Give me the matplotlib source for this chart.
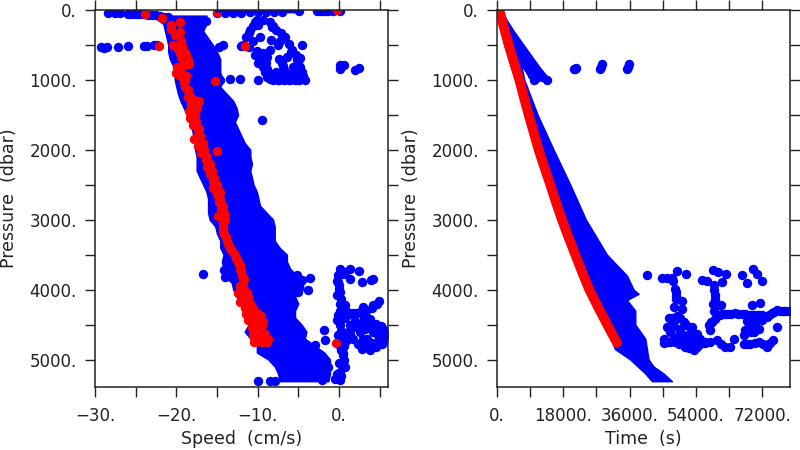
import matplotlib
matplotlib.use('Agg')
import matplotlib.pyplot as plt

# ==================== left panel: speed ====================
band_p = [80, 200, 300, 400, 500, 600, 700, 800, 900, 1000, 1100, 1200, 1300, 1400, 1500, 1600, 1700, 1800,
          1900, 2000, 2100, 2200, 2300, 2400, 2500, 2600, 2700, 2800, 2900, 3000, 3100, 3200, 3300, 3400,
          3500, 3600, 3700, 3800, 3900, 4000, 4100, 4200, 4300, 4400, 4500, 4600, 4700, 4800, 4900, 5000,
          5100, 5200, 5310]
band_lo = [-23, -21.6, -21.4, -21.2, -21, -21, -20.8, -20.4, -20.2, -20.2, -20, -19.8, -19.5, -19.1, -18.7,
           -18.3, -18.1, -17.9, -17.7, -17.7, -17.5, -17.5, -17.5, -17.1, -16.7, -16.3, -16.1, -16.1, -16.1,
           -15.9, -15.2, -15, -14.6, -14.6, -14.2, -14.4, -14.2, -14.2, -13.2, -13, -12.6, -12, -11.8, -11.4,
           -11.1, -11.6, -10.9, -10.1, -10.1, -8.7, -7.9, -7.5, -7.3]
band_hi = [-16.3, -16.3, -16.7, -16.1, -15.5, -15, -14.6, -14.6, -14.6, -14.2, -14.6, -13.8, -13, -12.6, -12.4,
           -12.8, -12.4, -12, -11.6, -10.9, -10.9, -10.7, -10.9, -10.7, -10.5, -10.1, -9.9, -9.7, -8.9, -8.1,
           -7.9, -7.9, -7.9, -7.3, -6.4, -6.4, -6, -5.2, -4.4, -4.4, -5.4, -5, -5.4, -5.4, -4.6, -4, -4.2, -3,
           -1.8, -1.1, -1.1, -1.1, -1.3]

# surface row, 500 dbar row, upper loop, deep cluster
blue_v = [-28.4, -27.5, -26.9, -26, -25.5, -25, -24.5, -24, -23.5, -23, -22.5, -22, -21.5, -21, -15, -14, -13, -12, -11, -10, -9,
          -8, -7, -4.9, -2.7, -2.3, -2, -1.6, -1.3, -0.7, 0.1,
          -29.3, -28.9, -28.5, -27.2, -26, -24, -23.6, -22.8, -22.4, -14.2, -14.8, -12, -16.4,
          -10.3, -10.9, -11.4, -11.8, -11.1, -10.3, -9.9, -9.3, -8.9, -8.1, -6.8, -5.4, -4.2, -4.6, -5, -4.8, -5.8,
          -6.6, -7.7, -8.5, -9.3, -10.1, -7, -7.7, -8.9, -9.9, -9.7, -8.3, -7.5, -6.4, -8.5, -6.8, -5.6, -4.6,
          -10.6, -11.1, -10.6, -10.1, -9.6, -9.1, -8.5, -7.5, -6.2, -4.9, -4.4, -4.8, -5.3, -6.2, -7.1, -8.1, -7.4, -6, -5.6,
          -9.4, -9, -8.8, -8.4, -7.9, -7.1, -6.9, -5.4, -5.2, -5.9, -7.2, -8.2,
          -9.5, 0.1, 0.65, 0.1, 2, 2.5, -14.6, -13.4, -12.2, -9.9, -7.4, -6, -5, -4.6,
          -16.7, -14.1, -14, -3.6, -4.6, -5.2, -3.8, -5, -1.9, -10, -8.5, -7.9,
          0.1, 1.35, 2.5, -0.1, 1.35, 2.8, 4.2, 3.9, -0.1, 0, -0.3, 0.1, 0.75, -0.1, 0.1, -0.1, 0.3, 0.5, 0.75, 0.1,
          0.1, -0.5, 3, 4.2, 4.9, 0.5, 1.75, 3, 3.8, 4.6, 5.45, 5.9, 5.45, 4.6, 3.8, 2.8, 1.75, 0.95, 1.35, 2.6, 3.4,
          4.2, 5, 2.4, 0.5, 0.1, -2.95, -1.7, -2.5, -1.3, -2.1, 0.8, 1.1, 2, 3.2, 4.4, 5.2,
          0.5, 0.8, -0.2, 0, 0.1, 0.2, 0.1, -0.2, 0.2, 0.4, 0.6, 0.5, 0.6, 0.9, 1.2, 1.7, 2.1, 2.6, 3.3, 3.6, 4.1, 4.7,
          5.2, 5.6, 4.9, 4.1, 3.3, 2.4, 1.3, 0.6, 1.9, 3, 3.8, 4.6, 5.3, 2.9, 4.4, -0.3, 0, 0.3, 0.5]
blue_p = [50, 45, 50, 60, 60, 60, 60, 60, 65, 70, 75, 90, 95, 100, 45, 40, 40, 40, 35, 35, 35,
          35, 25, 20, 20, 20, 20, 20, 20, 20, 20,
          530, 540, 530, 525, 515, 510, 510, 505, 505, 505, 535, 520, 153,
          167, 286, 381, 501, 525, 644, 763, 811, 954, 1001, 1001, 1001, 1001, 882, 763, 691, 572,
          381, 286, 167, 143, 143, 763, 882, 668, 215, 381, 429, 501, 668, 572, 858, 882, 501,
          230, 335, 440, 585, 705, 880, 985, 1001, 1001, 1001, 950, 820, 640, 480, 335, 225, 700, 930, 810,
          620, 760, 850, 910, 960, 950, 800, 920, 720, 600, 440, 250,
          1574, 787, 787, 849, 858, 835, 1001, 992, 987, 1001, 1001, 1001, 1000, 960,
          3771, 3723, 3819, 3828, 3866, 3795, 4010, 4033, 4572, 5307, 5307, 5307,
          3700, 3700, 3733, 3795, 3843, 3890, 3843, 3860, 3890, 3986, 4081, 4200, 4224, 4367, 4510, 4653, 4868, 4940, 5106, 5178,
          5297, 5273, 4248, 4224, 4167, 4367, 4367, 4367, 4415, 4486, 4558, 4653, 4749, 4820, 4868, 4844, 4701, 4725, 4510, 4605, 4701,
          4605, 4653, 4510, 4770, 4800, 4796, 4725, 4987, 5106, 5297, 4400, 4600, 4450, 4560, 4500, 4700,
          3770, 3750, 3880, 3940, 4040, 4130, 4300, 4440, 4590, 4700, 4800, 4900, 5000, 4300, 4330, 4330, 4330, 4320, 4300, 4420, 4260, 4200,
          4520, 4620, 4700, 4760, 4800, 4780, 4640, 4650, 4540, 4460, 4520, 4620, 4780, 4700, 4790, 5200, 5050, 5240, 5040]

red_v = [-23.85, -21.7, -20.6, -20.6, -19.5, -20.2, -19.5, -20.45, -22.1, -11.5, -15.3, -15, -15, -0.2, -0.4,
         -19.4, -19.3, -19, -19.2, -18.8, -19.2, -19.4, -19.6, -18.8, -18.9, -18.6, -18.6, -18.2, -17.2, -17.4, -17.7,
         -17.6, -17.2, -17.1, -16.7, -16.6, -16.2, -15.9, -15.6, -15.4, -15, -14.6, -14.6, -14.3, -14.1, -14,
         -14.3, -14.1, -13.8, -13.4, -12.8, -12.4, -12.2, -11.9, -11.8, -11.7, -11.6, -11, -10.4, -10, -10.4, -9.9, -9.7, -8.9,
         -11.2, -10.9, -10.9, -10.4, -10.1, -12.4,
         -19.3, -18.9, -19.4, -18.6, -19, -19.1, -18.9, -18.4, -18.2, -18, -18.5, -18.3, -17.6, -17.9, -17.3, -17.8,
         -17.3, -17, -16.9, -16.4, -16.2, -15.8, -15.5, -15.5, -15, -14.7, -14.5, -14.9, -14.1, -14.3, -14.2,
         -13.9, -13.6, -13.2, -12.6, -12.2, -12.1, -11.7, -12.2, -11.3, -11.3, -11.4, -10.7, -9.8, -10.7, -10.6, -10.4, -9.5, -9.3]
red_p = [57, 120, 215, 277, 167, 358, 320, 500, 515, 510, 1016, 2012, 24, 0, 4763,
         450, 550, 600, 700, 650, 800, 900, 850, 950, 1100, 1150, 1250, 1350, 1300, 1400, 1500,
         1600, 1700, 1800, 1900, 2000, 2100, 2200, 2300, 2400, 2500, 2600, 2700, 2800, 2900, 3000,
         3100, 3200, 3300, 3400, 3500, 3600, 3700, 3800, 3900, 4000, 4100, 4200, 4300, 4400, 4500, 4600, 4700, 4755,
         4100, 4250, 4400, 4600, 4700, 4050,
         520, 620, 670, 730, 760, 1050, 1000, 1200, 1300, 1280, 1450, 1550, 1420, 1650, 1750, 1850,
         1950, 2050, 1980, 2150, 2250, 2350, 2450, 2550, 2650, 2750, 2850, 2950, 2950, 3050, 3150,
         3250, 3350, 3450, 3550, 3650, 3750, 3850, 3950, 4050, 4150, 4350, 4250, 4380, 4550, 4650, 4750, 4500, 4720]

# red points that thicken the trace where it is widest
red_fat_v = [-19.8, -19.5, -19.2, -18.9, -18.6, -18.4, -19.9, -19.6, -20, -19.7, -19.3, -12.1, -11.7, -11.2, -12.2,
             -11.6, -11.2, -10.8, -11.5, -11, -10.5, -10.1, -9.6, -11.2, -10.8, -10.3, -9.9, -9.4,
             -10.3, -9.9, -9.5, -9.1, -8.7, -10.2, -9.8, -10.3, -9.7, -9.2, -9.6, -9]
red_fat_p = [560, 620, 660, 690, 720, 770, 820, 880, 900, 930, 960, 4060, 4060, 4100, 4170,
             4190, 4180, 4220, 4270, 4280, 4300, 4340, 4380, 4430, 4450, 4460, 4480, 4470,
             4570, 4580, 4600, 4640, 4700, 4630, 4660, 4700, 4720, 4720, 4750, 4745]

# ==================== right panel: time ====================
tband_p = [0, 500, 1000, 1500, 2000, 2500, 3000, 3500, 3800, 4000, 4060, 4150, 4300, 4500, 4700, 4850, 5000, 5100, 5200, 5310]
tband_lo = [270, 1990, 4970, 7510, 10220, 13390, 16460, 20080, 22610, 23970, 24500, 25300, 26700, 28900, 31000,
            32000, 36180, 38200, 40250, 42060]
tband_hi = [1360, 5430, 7420, 11030, 15380, 19900, 24150, 29850, 35280, 37080, 38440, 35280, 37540, 37540, 40250,
            40700, 41150, 42510, 45220, 47490]
fan_p = [0, 300, 600, 800, 950]
fan_lo = [630, 1800, 4070, 6780, 8590]
fan_hi = [900, 4520, 8590, 11300, 13570]

tblue_t = [20800, 21530, 27860, 28490, 35280, 35820, 21100, 28150, 35550, 9950, 10300, 13570, 12210, 9500,
           40700, 44770, 47490, 48840, 51370, 48390, 48660, 50200, 47940, 50200, 55630, 57000, 58520, 59880, 61050,
           62230, 58790, 59240, 58520, 60780, 66570, 67840, 69370, 70550, 71900, 69190, 71270, 47900, 46100, 48500, 48500,
           59000, 59100, 59300, 59000,
           79140, 78300, 77500, 76700, 75980, 75300, 74600, 73900, 73260, 72600, 71900, 71200, 70550, 69800, 69000, 68200, 67300, 66400, 65500, 64500,
           63600, 62700, 61900, 61100, 60400, 59800, 59240, 58300, 57430, 57890,
           45220, 45220, 46100, 47040, 48400, 49750, 51100, 52200, 53370, 54300, 55180, 56500, 57890, 59600, 60800, 61960, 63310, 64220, 66930, 67800, 68740,
           70000, 71000, 72100, 73260, 74100, 74890, 66930, 69650, 68290, 67900, 71000, 75980, 72000, 70000, 67400, 68900, 70300,
           47040, 48390, 50650, 52910, 54270, 47500, 49500, 51500, 46130, 49000, 48000, 50000, 52000, 53000,
           46800, 47600, 48800, 49600, 51300, 53800, 52400, 50800, 49300, 47800, 55200, 56400, 58100]
tblue_p = [849, 825, 849, 777, 849, 772, 840, 810, 810, 1001, 980, 1001, 963, 930,
           3785, 3828, 3833, 3733, 3780, 3986, 4091, 4167, 4248, 4272, 3866, 3876, 3714, 3747, 3890,
           3780, 3938, 4081, 4200, 4224, 3795, 3900, 3700, 3771, 3876, 4224, 4191, 3870, 3830, 4040, 4140,
           4000, 4140, 4250, 4300,
           4305, 4300, 4310, 4300, 4296, 4320, 4340, 4370, 4391, 4380, 4370, 4360, 4367, 4360, 4370, 4360, 4350, 4345, 4343, 4340,
           4345, 4350, 4350, 4355, 4360, 4380, 4415, 4460, 4510, 4582,
           4700, 4758, 4755, 4749, 4750, 4749, 4820, 4840, 4868, 4820, 4772, 4750, 4749, 4725, 4780, 4820, 4820, 4701, 4772, 4775, 4772,
           4760, 4749, 4780, 4820, 4770, 4715, 4653, 4605, 4510, 4450, 4558, 4534, 4440, 4480, 4580, 4600, 4550,
           4605, 4439, 4463, 4534, 4629, 4500, 4560, 4680, 4534, 4700, 4680, 4620, 4720, 4780,
           4400, 4400, 4380, 4400, 4500, 4680, 4620, 4790, 4780, 4520, 4710, 4760, 4470]

tred_p = [0, 250, 500, 750, 1000, 1250, 1500, 1750, 2000, 2250, 2500, 2750, 3000, 3250, 3500, 3750, 4000, 4250, 4500, 4760]
tred_t = [630, 1870, 3170, 4600, 6060, 7300, 8590, 9950, 11300, 12850, 14470, 16000, 17640, 19400, 21260, 23100, 25050, 27450, 29900, 32560]

# ==================== ticks =================================
yticks = [0, 500, 1000, 1500, 2000, 2500, 3000, 3500, 4000, 4500, 5000]
ylabels = ['0.', '', '1000.', '', '2000.', '', '3000.', '', '4000.', '', '5000.']
vticks = [-30, -25, -20, -15, -10, -5, 0, 5]
vlabels = ['\u221230.', '', '\u221220.', '', '\u221210.', '', '0.', '']
tticks = [0, 9000, 18000, 27000, 36000, 45000, 54000, 63000, 72000]
tlabels = ['0.', '', '18000.', '', '36000.', '', '54000.', '', '72000.']

dark = '#222222'
msize = 46


def style(ax, xticks, xlabels, xlabel):
    ax.set_ylim(5393, 0)
    ax.set_xticks(xticks)
    ax.set_xticklabels(xlabels)
    ax.set_yticks(yticks)
    ax.set_yticklabels(ylabels)
    ax.tick_params(which='major', direction='out', length=7.2, width=1.0, color=dark, labelcolor=dark,
                   labelsize=12, top=True, right=True, pad=6)
    ax.tick_params(axis='x', pad=7)
    for s in ax.spines.values():
        s.set_linewidth(1.1)
        s.set_color(dark)
    ax.set_xlabel(xlabel, fontsize=12.5, color=dark)
    ax.set_ylabel('Pressure  (dbar)', fontsize=12.5, color=dark)
    ax.xaxis.set_label_coords(0.5, -0.115)
    ax.yaxis.set_label_coords(-0.263, 0.5)


def main():
    fig = plt.figure(figsize=(8, 4.5), dpi=100)
    ax1 = fig.add_axes([95 / 800, 63 / 450, 293 / 800, 377 / 450])
    ax2 = fig.add_axes([497 / 800, 63 / 450, 292.5 / 800, 377 / 450])

    ax1.fill_betweenx(band_p, band_lo, band_hi, color='blue', lw=1)
    ax1.scatter(blue_v, blue_p, s=msize, color='blue', lw=0)
    ax1.plot([-15, -5], [12, 25], color='blue', lw=2.5)
    ax1.scatter(red_v, red_p, s=msize, color='red', lw=0)
    ax1.scatter(red_fat_v, red_fat_p, s=msize, color='red', lw=0)
    ax1.set_xlim(-30, 6.03)
    style(ax1, vticks, vlabels, 'Speed  (cm/s)')

    ax2.fill_betweenx(tband_p, tband_lo, tband_hi, color='blue', lw=1)
    ax2.fill_betweenx(fan_p, fan_lo, fan_hi, color='blue', lw=1)
    ax2.scatter(tblue_t, tblue_p, s=msize, color='blue', lw=0)
    ax2.plot(tred_t, tred_p, color='red', lw=7, solid_capstyle='round')
    ax2.set_xlim(0, 79400)
    style(ax2, tticks, tlabels, 'Time  (s)')

    fig.savefig('out.png', dpi=100)


if __name__ == '__main__':
    main()
